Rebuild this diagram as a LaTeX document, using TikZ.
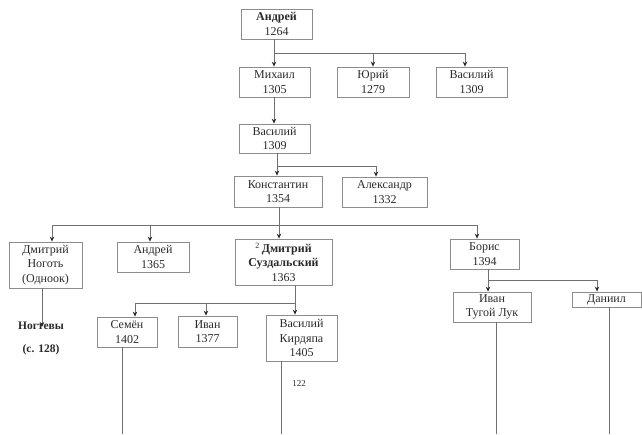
\documentclass[tikz,border=0pt]{standalone}
\usepackage{fontspec}
\setmainfont{Liberation Serif}
\usetikzlibrary{arrows.meta}
\definecolor{txt}{HTML}{2A2A2A}
\definecolor{ln}{HTML}{707070}
\definecolor{bx}{HTML}{8C8C8C}
\begin{document}
\begin{tikzpicture}[x=1pt,y=-1pt,
  box/.style={draw=bx, line width=0.8pt, inner sep=0pt, align=center, text=txt,
    font=\fontsize{12}{14.3}\selectfont},
  conn/.style={draw=ln, line width=0.8pt},
  arr/.style={conn, -{Stealth[length=5pt,width=4.5pt,color=txt]}},
  lbl/.style={text=txt, inner sep=0pt, font=\bfseries\fontsize{11.5}{14}\selectfont},
  pg/.style={text=txt, inner sep=0pt, font=\fontsize{9}{10}\selectfont}]
\useasboundingbox (0,0) rectangle (642,434);

% boxes
\node[box, minimum width=71pt, minimum height=30pt] (a1) at (276.5,24) {\textbf{Андрей}\\1264};
\node[box, minimum width=71pt, minimum height=30pt] (m) at (274.5,82) {Михаил\\1305};
\node[box, minimum width=72pt, minimum height=30pt] (yu) at (373,82) {Юрий\\1279};
\node[box, minimum width=71pt, minimum height=30pt] (v1) at (471.5,82) {Василий\\1309};
\node[box, minimum width=71pt, minimum height=29pt] (v2) at (274.5,138.5) {Василий\\1309};
\node[box, minimum width=88pt, minimum height=31pt] (k) at (278,191.5) {Константин\\1354};
\node[box, minimum width=85pt, minimum height=30pt] (al) at (384.5,192) {Александр\\1332};
\node[box, minimum width=73pt, minimum height=46pt] (dn) at (45.5,265) {Дмитрий\\Ноготь\\(Одноок)};
\node[box, minimum width=72pt, minimum height=30pt] (a2) at (153,257) {Андрей\\1365};
\node[box, minimum width=97pt, minimum height=46pt] (ds) at (283.5,262) {\textsuperscript{2}\,\textbf{Дмитрий}\\\textbf{Суздальский}\\1363};
\node[box, minimum width=69pt, minimum height=30pt] (b) at (484.5,254) {Борис\\1394};
\node[box, minimum width=78pt, minimum height=30pt] (it) at (492,307) {Иван\\Тугой Лук};
\node[box, minimum width=69pt, minimum height=15pt] (dan) at (606.5,299.5) {Даниил};
\node[box, minimum width=60pt, minimum height=30pt] (s) at (127,332) {Семён\\1402};
\node[box, minimum width=59pt, minimum height=31pt] (i) at (207.5,331.5) {Иван\\1377};
\node[box, minimum width=71pt, minimum height=46pt] (vk) at (301.5,338) {Василий\\Кирдяпа\\1405};

% labels
\node[lbl] (nog) at (41,326) {Ногтевы};
\node[lbl] (ref) at (41,350) {(с. 128)};
\node[pg] (p122) at (299,384) {122};

% bus 1
\coordinate (b1L) at (274,53);
\coordinate (b1M) at (373,53);
\coordinate (b1R) at (465,53);
\draw[conn] (a1.south -| b1L) -- (b1L) -- (b1R);
\draw[arr] (b1L) -- (m.north -| b1L);
\draw[arr] (b1M) -- (yu.north -| b1M);
\draw[arr] (b1R) -- (v1.north -| b1R);
\draw[arr] (m.south -| b1L) -- (v2.north -| b1L);

% bus 2
\coordinate (b2L) at (277,166);
\coordinate (b2R) at (376,166);
\draw[conn] (v2.south -| b2L) -- (b2L) -- (b2R);
\draw[arr] (b2L) -- (k.north -| b2L);
\draw[arr] (b2R) -- (al.north -| b2R);

% bus 3
\coordinate (b3a) at (52,225);
\coordinate (b3b) at (150,225);
\coordinate (b3c) at (279,225);
\coordinate (b3d) at (477,225);
\draw[conn] (k.south -| b3c) -- (b3c);
\draw[conn] (b3a) -- (b3d);
\draw[arr] (b3a) -- (dn.north -| b3a);
\draw[arr] (b3b) -- (a2.north -| b3b);
\draw[arr] (b3c) -- (ds.north -| b3c);
\draw[arr] (b3d) -- (b.north -| b3d);

% bus 4
\coordinate (b4a) at (135,303);
\coordinate (b4b) at (206,303);
\coordinate (b4c) at (295,303);
\draw[conn] (ds.south -| b4c) -- (b4c) -- (b4a);
\draw[arr] (b4a) -- (s.north -| b4a);
\draw[arr] (b4b) -- (i.north -| b4b);
\draw[arr] (b4c) -- (vk.north -| b4c);

% bus 5
\coordinate (b5a) at (488,280);
\coordinate (b5b) at (597,280);
\draw[conn] (b.south -| b5a) -- (b5a) -- (b5b);
\draw[arr] (b5a) -- (it.north -| b5a);
\draw[arr] (b5b) -- (dan.north -| b5b);

% Ноготь -> Ногтевы
\coordinate (nx) at (42,0);
\draw[arr] (dn.south -| nx) -- ([yshift=-5pt]nog.north -| nx);

% lines to the bottom edge
\coordinate (e1) at (122,434);
\coordinate (e2) at (281,434);
\coordinate (e3) at (496,434);
\coordinate (e4) at (609,434);
\draw[conn] (s.south -| e1) -- (e1);
\draw[conn] (vk.south -| e2) -- (e2);
\draw[conn] (it.south -| e3) -- (e3);
\draw[conn] (dan.south -| e4) -- (e4);
\end{tikzpicture}
\end{document}
